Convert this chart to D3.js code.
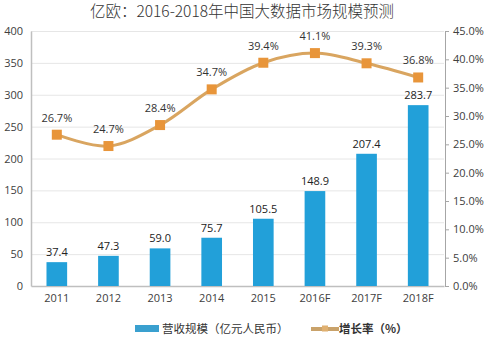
<!DOCTYPE html>
<html><head><meta charset="utf-8">
<script src="https://cdn.jsdelivr.net/npm/d3@7"></script>
<style>body{margin:0;background:#fff;}svg{display:block;font-family:"Noto Sans CJK SC","Noto Sans",sans-serif;}</style>
</head><body><svg id="c" width="484" height="360"></svg>
<script>
const categories = ["2011","2012","2013","2014","2015","2016F","2017F","2018F"];
const revenue = [37.4,47.3,59.0,75.7,105.5,148.9,207.4,283.7];
const growth = [26.7,24.7,28.4,34.7,39.4,41.1,39.3,36.8];
const leftTicks = [0,50,100,150,200,250,300,350,400];
const rightTicks = [0,5,10,15,20,25,30,35,40,45];
const title = "亿欧：2016-2018年中国大数据市场规模预测";
const legendBar = "营收规模（亿元人民币）";
const legendLine = "增长率（%）";

const svg = d3.select("#c");
const L = 31, R = 444, T = 31, B = 286;
const x = d3.scaleBand().domain(categories).range([L, R]).paddingInner(0.6).paddingOuter(0.3);
const yL = d3.scaleLinear().domain([0,400]).range([B,T]);
const yR = d3.scaleLinear().domain([0,45]).range([B,T]);

svg.append("text").attr("x",242).attr("y",17).attr("text-anchor","middle")
  .attr("font-size",15.5).attr("font-weight",300).attr("fill","#333").text(title);

// gridlines
svg.append("g").selectAll("line").data(leftTicks.slice(1)).join("line")
  .attr("x1",L).attr("x2",R).attr("y1",d=>yL(d)+0.5).attr("y2",d=>yL(d)+0.5)
  .attr("stroke","#e6e6e6");

// left axis
const gl = svg.append("g").attr("transform",`translate(${L},0)`)
  .call(d3.axisLeft(yL).tickValues(leftTicks).tickSize(0).tickPadding(8));
gl.select(".domain").attr("stroke","#bfbfbf").attr("stroke-width",1.5);
gl.selectAll("text").attr("font-size",11).attr("fill","#404040").attr("font-family","'Open Sans','Noto Sans',sans-serif");

// right axis
const gr = svg.append("g").attr("transform",`translate(${R+1},0)`)
  .call(d3.axisRight(yR).tickValues(rightTicks).tickSize(4).tickPadding(4).tickFormat(d=>d.toFixed(1)+"%"));
gr.select(".domain").attr("stroke","#a6a6a6");
gr.selectAll("line").attr("stroke","#a6a6a6");
gr.selectAll("text").attr("font-size",11).attr("fill","#404040").attr("font-family","'Open Sans','Noto Sans',sans-serif");

// bottom axis
const gb = svg.append("g").attr("transform",`translate(0,${B})`)
  .call(d3.axisBottom(x).tickSize(0).tickPadding(8));
gb.select(".domain").attr("stroke","#bfbfbf").attr("stroke-width",1.5);
gb.selectAll("text").attr("font-size",11).attr("fill","#404040").attr("font-family","'Open Sans','Noto Sans',sans-serif");

// bars
svg.append("g").selectAll("rect").data(revenue).join("rect")
  .attr("x",(d,i)=>x(categories[i])).attr("width",x.bandwidth())
  .attr("y",d=>yL(d)).attr("height",d=>B-yL(d)).attr("fill","#22a0d9");
svg.append("g").selectAll("text").data(revenue).join("text")
  .attr("x",(d,i)=>x(categories[i])+x.bandwidth()/2).attr("y",d=>yL(d)-6)
  .attr("text-anchor","middle").attr("font-size",11).attr("fill","#222")
  .attr("font-family","'Open Sans','Noto Sans',sans-serif").text(d=>d.toFixed(1));

// line
const cx = (i)=>x(categories[i])+x.bandwidth()/2;
const line = d3.line().x((d,i)=>cx(i)).y(d=>yR(d)).curve(d3.curveCatmullRom.alpha(0.5));
svg.append("path").datum(growth).attr("d",line).attr("fill","none")
  .attr("stroke","#d9a560").attr("stroke-width",3);
svg.append("g").selectAll("rect").data(growth).join("rect")
  .attr("x",(d,i)=>cx(i)-5).attr("y",d=>yR(d)-5).attr("width",10).attr("height",10)
  .attr("fill","#e8953a");
svg.append("g").selectAll("text").data(growth).join("text")
  .attr("x",(d,i)=>cx(i)).attr("y",d=>yR(d)-13)
  .attr("text-anchor","middle").attr("font-size",11).attr("fill","#333")
  .attr("font-family","'Open Sans','Noto Sans',sans-serif").text(d=>d.toFixed(1)+"%");

// legend
svg.append("rect").attr("x",135).attr("y",325).attr("width",24).attr("height",7).attr("fill","#3aa0cf");
svg.append("text").attr("x",162).attr("y",333).attr("font-size",11.5).attr("fill","#333").text(legendBar);
svg.append("line").attr("x1",311).attr("x2",339).attr("y1",329).attr("y2",329).attr("stroke","#c9a26a").attr("stroke-width",4);
svg.append("rect").attr("x",322).attr("y",325.5).attr("width",6).attr("height",6).attr("fill","#e0b070");
svg.append("text").attr("x",339).attr("y",333).attr("font-size",11.5).attr("fill","#333").attr("font-weight","bold").text(legendLine);
</script></body></html>
